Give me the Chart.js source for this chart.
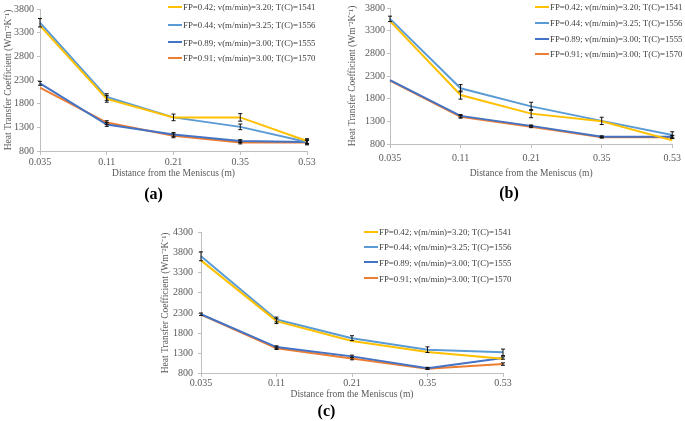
<!DOCTYPE html>
<html>
<head>
<meta charset="utf-8">
<script src="https://cdn.jsdelivr.net/npm/chart.js@4.4.1/dist/chart.umd.min.js"></script>
<style>
body { margin: 0; background: #fff; width: 685px; height: 421px; position: relative; overflow: hidden; font-family: "Liberation Serif", "Times New Roman", serif; }
canvas { position: absolute; }
.legend { position: absolute; font-size: 8.8px; color: #404040; white-space: nowrap; }
.legend div { position: absolute; left: 0; height: 12px; line-height: 12px; }
.legend span { display: inline-block; width: 14px; height: 2px; vertical-align: middle; margin-right: 1px; position: relative; top: -1px; }
</style>
</head>
<body>
<canvas id="chartA" width="345" height="210" style="left:0;top:0;width:345px;height:210px"></canvas>
<canvas id="chartB" width="340" height="210" style="left:345px;top:0;width:340px;height:210px"></canvas>
<canvas id="chartC" width="400" height="211" style="left:150px;top:210px;width:400px;height:211px"></canvas>
<div class="legend" id="legendA" style="left:168px;top:1px"></div>
<div class="legend" id="legendB" style="left:535px;top:1px"></div>
<div class="legend" id="legendC" style="left:364px;top:226px"></div>
<script>
// categories
let distances = ['0.035', '0.11', '0.21', '0.35', '0.53'];

let seriesNames = [
    'FP=0.42; v(m/min)=3.20; T(C)=1541',
    'FP=0.44; v(m/min)=3.25; T(C)=1556',
    'FP=0.89; v(m/min)=3.00; T(C)=1555',
    'FP=0.91; v(m/min)=3.00; T(C)=1570'
];

// (a)
let a_fp042 = [3450, 1900, 1510, 1510, 1010];
let a_fp044 = [3510, 1940, 1510, 1310, 990];
let a_fp089 = [2230, 1360, 1150, 1010, 990];
let a_fp091 = [2140, 1400, 1120, 980, 980];
let a_err042 = [0, 70, 0, 80, 50];
let a_err044 = [90, 70, 70, 60, 40];
let a_err089 = [40, 40, 40, 30, 40];
let a_err091 = [0, 40, 40, 30, 50];

// (b)
let b_fp042 = [3510, 1880, 1470, 1300, 880];
let b_fp044 = [3560, 2030, 1630, 1310, 1000];
let b_fp089 = [2210, 1420, 1200, 960, 960];
let b_fp091 = [2200, 1400, 1180, 950, 950];
let b_err042 = [0, 90, 90, 0, 0];
let b_err044 = [60, 80, 90, 80, 70];
let b_err089 = [0, 30, 20, 20, 30];
let b_err091 = [0, 30, 20, 20, 30];

// (c)
let c_fp042 = [3600, 2100, 1610, 1340, 1170];
let c_fp044 = [3700, 2140, 1680, 1395, 1330];
let c_fp089 = [2270, 1460, 1230, 940, 1190];
let c_fp091 = [2260, 1430, 1175, 925, 1040];
let c_err042 = [0, 60, 0, 0, 0];
let c_err044 = [110, 60, 60, 70, 80];
let c_err089 = [30, 30, 30, 20, 30];
let c_err091 = [0, 30, 30, 20, 30];

// y axis ticks
let yTicksAB = [800, 1300, 1800, 2300, 2800, 3300, 3800];
let yTicksC = [800, 1300, 1800, 2300, 2800, 3300, 3800, 4300];

let lineColors = ['#FFC000', '#5B9BD5', '#4472C4', '#ED7D31'];
let serif = '"Liberation Serif", "Times New Roman", serif';

// Error bar plugin

let errorBars = {
    id: 'errorBars',
    afterDatasetsDraw(chart) {
        let ctx = chart.ctx;
        let y = chart.scales.y;
        chart.data.datasets.forEach((ds, i) => {
            let meta = chart.getDatasetMeta(i);
            meta.data.forEach((pt, j) => {
                let e = ds.errors[j];
                if (!e) return;
                let top = y.getPixelForValue(ds.data[j] + e);
                let bot = y.getPixelForValue(ds.data[j] - e);
                ctx.save();
                ctx.strokeStyle = '#111';
                ctx.lineWidth = 1;
                ctx.beginPath();
                ctx.moveTo(pt.x, top); ctx.lineTo(pt.x, bot);
                ctx.moveTo(pt.x - 2, top); ctx.lineTo(pt.x + 2, top);
                ctx.moveTo(pt.x - 2, bot); ctx.lineTo(pt.x + 2, bot);
                ctx.stroke();
                ctx.restore();
            });
        });
    }
};

function makeChart(id, values, errors, yTicks, g) {
    let ctx = document.getElementById(id).getContext('2d');
    return new Chart(ctx, {
        type: 'line',
        data: {
            labels: distances,
            datasets: values.map((v, i) => ({
                label: seriesNames[i],
                data: v,
                errors: errors[i],
                borderColor: lineColors[i],
                backgroundColor: lineColors[i],
                borderWidth: 2,
                pointRadius: 0,
                tension: 0,
                fill: false
            }))
        },
        options: {
            responsive: false,
            animation: false,
            layout: { padding: { left: 0, right: g.right, top: g.top, bottom: 0 } },
            scales: {
                x: {
                    offset: false,
                    grid: { drawOnChartArea: false, drawTicks: true, tickLength: g.xTick, color: '#bfbfbf' },
                    border: { color: '#bfbfbf' },
                    ticks: { autoSkip: false, maxRotation: 0, padding: g.xPad, color: '#595959', font: { family: serif, size: 10 } },
                    title: { display: true, text: 'Distance from the Meniscus (m)', color: '#595959', font: { family: serif, size: 9.5 }, padding: { top: 0, bottom: g.xTitlePad } },
                    afterFit: s => { s.height = g.xHeight; }
                },
                y: {
                    min: yTicks[0],
                    max: yTicks[yTicks.length - 1],
                    afterBuildTicks: s => { s.ticks = yTicks.map(v => ({ value: v })); },
                    grid: { drawOnChartArea: false, drawTicks: true, tickLength: 3, color: '#bfbfbf' },
                    border: { color: '#bfbfbf' },
                    ticks: { padding: g.yPad, color: '#595959', font: { family: serif, size: 10 }, callback: v => String(v) },
                    title: { display: true, text: 'Heat Transfer Coefficient (Wm\u207B\u00B2K\u207B\u00B9)', color: '#595959', font: { family: serif, size: 9.5 }, padding: { top: g.yTitlePad, bottom: 0 } },
                    afterFit: s => { s.width = g.yWidth; }
                }
            },
            plugins: {
                legend: { display: false },
                tooltip: { enabled: false },
                title: {
                    display: true,
                    position: 'bottom',
                    text: g.label,
                    color: '#000',
                    font: { family: serif, size: 16, weight: 'bold', lineHeight: 1.2 },
                    padding: { top: g.tTop, bottom: g.tBottom }
                }
            }
        },
        plugins: [errorBars]
    });
}

function makeLegend(id, rows) {
    let box = document.getElementById(id);
    seriesNames.forEach((name, i) => {
        let row = document.createElement('div');
        row.style.top = rows[i] + 'px';
        row.innerHTML = '<span style="background:' + lineColors[i] + '"></span>' + name;
        box.appendChild(row);
    });
}

makeChart('chartA', [a_fp042, a_fp044, a_fp089, a_fp091], [a_err042, a_err044, a_err089, a_err091], yTicksAB,
    { right: 38, top: 6, yWidth: 40, yPad: 3, yTitlePad: 2.3, xTick: 4, xPad: 1, xHeight: 30.8, xTitlePad: 3.1, label: '(a)', tTop: 3, tBottom: 6 });

makeChart('chartB', [b_fp042, b_fp044, b_fp089, b_fp091], [b_err042, b_err044, b_err089, b_err091], yTicksAB,
    { right: 12, top: 7, yWidth: 45, yPad: 2, yTitlePad: 1.3, xTick: 4, xPad: 4, xHeight: 36.8, xTitlePad: 2.1, label: '(b)', tTop: 3, tBottom: 7 });

makeChart('chartC', [c_fp042, c_fp044, c_fp089, c_fp091], [c_err042, c_err044, c_err089, c_err091], yTicksC,
    { right: 47, top: 22, yWidth: 51, yPad: 5, yTitlePad: 9.3, xTick: 3, xPad: 0.3, xHeight: 28, xTitlePad: 1.6, label: '(c)', tTop: 0, tBottom: 0 });

makeLegend('legendA', [0, 18, 35.5, 51]);
makeLegend('legendB', [0, 16, 32, 47]);
makeLegend('legendC', [0, 15, 30.5, 46.5]);
</script>
</body>
</html>
